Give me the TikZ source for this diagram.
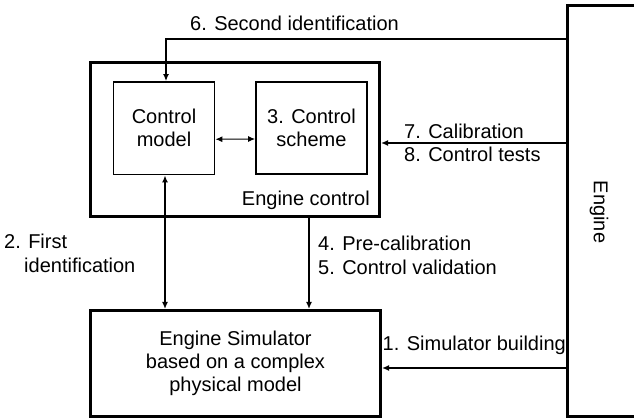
\documentclass[tikz,border=0pt]{standalone}
\usepackage{fontspec}
\setmainfont{Liberation Sans}
\usetikzlibrary{arrows.meta,calc}
\begin{document}
\begin{tikzpicture}[x=1pt,y=-1pt,
  every node/.style={font=\fontsize{20}{23}\selectfont, inner sep=0pt},
  bigbox/.style={draw, line width=3pt},
  smallbox/.style={draw, line width=1.8pt},
  arr/.style={-{Latex[length=7pt,width=6pt]}},
  darr/.style={{Latex[length=7pt,width=6pt]}-{Latex[length=7pt,width=6pt]}},
  lbl/.style={align=left}
]
\useasboundingbox (0,0) rectangle (634,419);
\clip (0,0) rectangle (634,419);
% boxes
\node[bigbox, minimum width=289pt, minimum height=153.5pt] (ec) at (235,139.75) {};
\node[smallbox, minimum width=101pt, minimum height=92.5pt, align=center] (cm) at (164,128.25) {Control\\model};
\node[smallbox, minimum width=111pt, minimum height=92pt, align=center] (cs) at (311.5,128) {3. Control\\scheme};
\node[anchor=base east] (ecl) at (370,206) {Engine control};
\node[bigbox, minimum width=290pt, minimum height=105.5pt, align=center] (sim) at (235.5,363.25) {Engine Simulator\\based on a complex\\physical model};
\node[bigbox, minimum width=132.5pt, minimum height=410pt] (eng) at (633.75,211) {};
\node[rotate=-90] (engl) at (599,212) {Engine};
% reference coordinates
\coordinate (y6) at (0,39);
\coordinate (y7) at (0,143);
\coordinate (y1) at (0,368);
\coordinate (x4) at (309,0);
% connectors
\draw[arr, line width=2pt] (eng.west |- y6) -| ([xshift=2pt]cm.north);
\draw[arr, line width=1.8pt] (eng.west |- y7) -- (ec.east |- y7);
\draw[arr, line width=2pt] (eng.west |- y1) -- (sim.east |- y1);
\draw[darr, line width=1pt] ([yshift=-11pt]cm.east) -- ([yshift=-11pt]cs.west);
\draw[darr, line width=2.6pt] ([xshift=1pt]cm.south) -- ([xshift=1pt]cm.south |- sim.north);
\draw[arr, line width=2.6pt] (ec.south -| x4) -- (sim.north -| x4);
% labels
\node[anchor=base west] (l6) at (190,31) {6. Second identification};
\node[anchor=base west] (l7) at (404,139) {7. Calibration};
\node[anchor=base west] (l8) at (404,162) {8. Control tests};
\node[anchor=base west] (l2a) at (4,249) {2. First};
\node[anchor=base west] (l2b) at (24,273) {identification};
\node[anchor=base west] (l4) at (318,251) {4. Pre-calibration};
\node[anchor=base west] (l5) at (318,275) {5. Control validation};
\node[anchor=base east] (l1) at (566,350) {1. Simulator building};
\end{tikzpicture}
\end{document}
